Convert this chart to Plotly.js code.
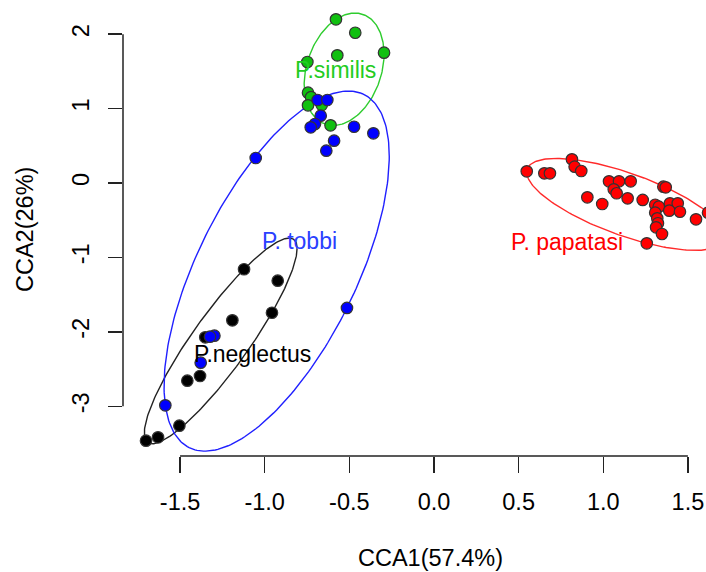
<!DOCTYPE html>
<html>
<head>
<meta charset="utf-8">
<script src="https://cdn.plot.ly/plotly-3.0.1.min.js"></script>
<style>
html, body { margin:0; padding:0; overflow:hidden; background:#fff; }
#plot { width:760px; height:572px; }
</style>
</head>
<body>
<div id="plot"></div>
<script>
// ---- data ----
const groups = ["P.neglectus", "P.similis", "P. tobbi", "P. papatasi"];

const neglectusX = [-1.122, -0.923, -0.957, -1.191, -1.351, -1.382, -1.457, -1.504, -1.630, -1.701];
const neglectusY = [-1.159, -1.313, -1.743, -1.845, -2.073, -2.593, -2.656, -3.261, -3.417, -3.462];

const similisX = [-0.579, -0.465, -0.295, -0.571, -0.748, -0.744, -0.726, -0.744, -0.663, -0.611];
const similisY = [2.199, 2.019, 1.751, 1.716, 1.626, 1.213, 1.155, 1.044, 1.048, 0.775];

const tobbiX = [-0.687, -0.630, -0.669, -0.703, -0.728, -0.472, -0.358, -0.590, -0.636, -1.053, -0.514, -1.297, -1.323, -1.378, -1.587];
const tobbiY = [1.115, 1.115, 0.904, 0.793, 0.748, 0.756, 0.668, 0.568, 0.434, 0.336, -1.679, -2.052, -2.065, -2.414, -2.987];

const papatasiX = [0.548, 0.652, 0.685, 0.815, 0.831, 0.870, 0.906, 0.994, 1.034, 1.093, 1.062, 1.079, 1.162, 1.144, 1.233, 1.355, 1.369, 1.307, 1.328, 1.394, 1.440, 1.390, 1.453, 1.307, 1.319, 1.323, 1.312, 1.347, 1.257, 1.548, 1.619, 1.700];
const papatasiY = [0.157, 0.130, 0.130, 0.318, 0.219, 0.161, -0.192, -0.282, 0.023, 0.023, -0.085, -0.138, 0.023, -0.206, -0.228, -0.050, -0.058, -0.292, -0.318, -0.273, -0.273, -0.372, -0.386, -0.399, -0.474, -0.541, -0.595, -0.685, -0.810, -0.488, -0.399, -0.600];

const labelX = [-1.072, -0.5815, -0.797, 0.783];
const labelY = [-2.297, 1.518, -0.779, -0.793];

const xTickVals = [-1.5, -1.0, -0.5, 0.0, 0.5, 1.0, 1.5];
const xTickText = ["-1.5", "-1.0", "-0.5", "0.0", "0.5", "1.0", "1.5"];
const yTickVals = [-3, -2, -1, 0, 1, 2];
const yTickText = ["-3", "-2", "-1", "0", "1", "2"];

const xTitle = "CCA1(57.4%)";
const yTitle = "CCA2(26%)";

// ---- styles ----
const pointColors = ["#000000", "#10C010", "#0000FF", "#FF0000"];
const lineColors  = ["#222222", "#2ECC2E", "#2020FF", "#FF2A2A"];
const labelColors = ["#000000", "#22CC22", "#2a40ff", "#FF0000"];
const FONT = "Liberation Sans, Arial, Helvetica, sans-serif";

// ---- minimum volume enclosing ellipse (ellipsoid hull, Khachiyan) ----
function inv3(m) {
  const [a,b,c,d,e,f,g,h,i] = m;
  const A = e*i - f*h, B = -(d*i - f*g), C = d*h - e*g;
  const det = a*A + b*B + c*C;
  return [A/det, -(b*i - c*h)/det, (b*f - c*e)/det,
          B/det, (a*i - c*g)/det, -(a*f - c*d)/det,
          C/det, -(a*h - b*g)/det, (a*e - b*d)/det];
}
function ellipseHull(xs, ys, npts) {
  const n = xs.length;
  let u = new Array(n).fill(1/n);
  for (let it = 0; it < 20000; it++) {
    const X = new Array(9).fill(0);
    for (let k = 0; k < n; k++) {
      const q = [xs[k], ys[k], 1];
      for (let r = 0; r < 3; r++) for (let s = 0; s < 3; s++) X[r*3+s] += u[k]*q[r]*q[s];
    }
    const Xi = inv3(X);
    let maxM = -1, j = 0;
    for (let k = 0; k < n; k++) {
      const q = [xs[k], ys[k], 1];
      let m = 0;
      for (let r = 0; r < 3; r++) for (let s = 0; s < 3; s++) m += q[r]*Xi[r*3+s]*q[s];
      if (m > maxM) { maxM = m; j = k; }
    }
    const step = (maxM - 3) / (3 * (maxM - 1));
    if (step < 1e-9) break;
    for (let k = 0; k < n; k++) u[k] *= (1 - step);
    u[j] += step;
  }
  let cx = 0, cy = 0;
  for (let k = 0; k < n; k++) { cx += u[k]*xs[k]; cy += u[k]*ys[k]; }
  let sxx = 0, sxy = 0, syy = 0;
  for (let k = 0; k < n; k++) {
    const dx = xs[k]-cx, dy = ys[k]-cy;
    sxx += u[k]*dx*dx; sxy += u[k]*dx*dy; syy += u[k]*dy*dy;
  }
  const s = Math.sqrt(2);
  const l11 = Math.sqrt(sxx), l21 = sxy / l11, l22 = Math.sqrt(Math.max(syy - l21*l21, 0));
  const ex = [], ey = [];
  for (let t = 0; t <= npts; t++) {
    const a = 2*Math.PI*t/npts, c = Math.cos(a), sn = Math.sin(a);
    ex.push(cx + s*(l11*c));
    ey.push(cy + s*(l21*c + l22*sn));
  }
  return [ex, ey];
}

const seriesX = [neglectusX, similisX, tobbiX, papatasiX];
const seriesY = [neglectusY, similisY, tobbiY, papatasiY];

const traces = [];
for (let g = 0; g < groups.length; g++) {
  const [ex, ey] = ellipseHull(seriesX[g], seriesY[g], 240);
  traces.push({x: ex, y: ey, type: "scatter", mode: "lines", hoverinfo: "skip",
    line: {color: lineColors[g], width: 1.4}, showlegend: false});
}
for (let g = 0; g < groups.length; g++) {
  traces.push({x: seriesX[g], y: seriesY[g], type: "scatter", mode: "markers", name: groups[g],
    marker: {size: 11.5, color: pointColors[g], line: {color: "#333333", width: 1.2}},
    showlegend: false, cliponaxis: false});
}

const annotations = groups.map((g, i) => ({
  x: labelX[i], y: labelY[i], xref: "x", yref: "y", text: g, showarrow: false,
  font: {family: FONT, size: 23, color: labelColors[i]}, xanchor: "center", yanchor: "middle"
}));
annotations.push({x: 0.5, y: 0, xref: "paper", yref: "paper", yshift: -102, text: xTitle,
  showarrow: false, xanchor: "center", yanchor: "middle", font: {family: FONT, size: 23.5, color: "#000"}});
annotations.push({x: 0, y: 0.5, xref: "paper", yref: "paper", xshift: -98, text: yTitle, textangle: -90,
  showarrow: false, xanchor: "center", yanchor: "middle", font: {family: FONT, size: 23.5, color: "#000"}});

const layout = {
  width: 760, height: 572,
  margin: {l: 123, r: 22, t: 4, b: 116},
  paper_bgcolor: "#fff", plot_bgcolor: "#fff",
  font: {family: FONT, size: 23.5, color: "#000"},
  xaxis: {range: [-1.837, 1.796], tickvals: xTickVals, ticktext: xTickText,
    ticks: "outside", ticklen: 16, tickwidth: 1.5, tickcolor: "#222",
    showline: false, showgrid: false, zeroline: false, ticklabelstandoff: 9,
    tickfont: {family: FONT, size: 23.5, color: "#000"}},
  yaxis: {range: [-3.668, 2.405], tickvals: yTickVals, ticktext: yTickText,
    ticks: "outside", ticklen: 14, tickwidth: 1.5, tickcolor: "#222", tickangle: -90,
    showline: false, showgrid: false, zeroline: false, ticklabelstandoff: 10,
    tickfont: {family: FONT, size: 23.5, color: "#000"}},
  shapes: [
    {type: "line", xref: "x", yref: "paper", x0: xTickVals[0], x1: xTickVals[xTickVals.length-1], y0: 0, y1: 0,
     line: {color: "#222", width: 1.5}},
    {type: "line", xref: "paper", yref: "y", x0: 0, x1: 0, y0: yTickVals[0], y1: yTickVals[yTickVals.length-1],
     line: {color: "#222", width: 1.5}}
  ],
  annotations: annotations,
  showlegend: false
};

Plotly.newPlot("plot", traces, layout, {displayModeBar: false, staticPlot: true});
</script>
</body>
</html>
